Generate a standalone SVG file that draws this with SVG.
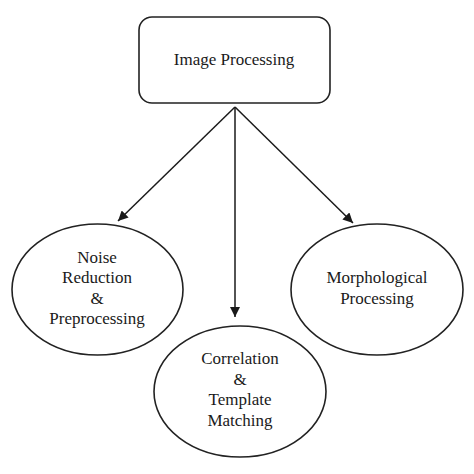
<svg xmlns="http://www.w3.org/2000/svg" width="474" height="474" viewBox="0 0 474 474">
<style>
.shape{fill:#fff;stroke:#222;stroke-width:1.6}
.lbl{font-family:"Liberation Serif","Times New Roman",serif;font-size:17px;fill:#1a1a1a;text-anchor:middle}
.conn{stroke:#1a1a1a;stroke-width:1.5;fill:none;marker-end:url(#ah)}
</style>
<defs>
<marker id="ah" viewBox="0 0 10 10" refX="10" refY="5" markerWidth="10" markerHeight="10" markerUnits="userSpaceOnUse" orient="auto">
<path d="M0,0 L10,5 L0,10 Z" fill="#1a1a1a"/>
</marker>
</defs>
<rect width="474" height="474" fill="#fff"/>
<g id="connectors">
<line class="conn" x1="235" y1="107" x2="118" y2="221"/>
<line class="conn" x1="235" y1="107" x2="235" y2="317"/>
<line class="conn" x1="235" y1="107" x2="353" y2="223"/>
</g>
<g id="node-image-processing">
<rect class="shape" x="139" y="17" width="191" height="86" rx="13"/>
<text class="lbl" x="234" y="65">Image Processing</text>
</g>
<g id="node-noise">
<ellipse class="shape" cx="97.5" cy="289.5" rx="85.5" ry="65.5"/>
<text class="lbl" x="97" y="263">Noise</text>
<text class="lbl" x="97" y="283">Reduction</text>
<text class="lbl" x="97" y="304">&amp;</text>
<text class="lbl" x="97" y="324">Preprocessing</text>
</g>
<g id="node-correlation">
<ellipse class="shape" cx="240" cy="391.5" rx="86" ry="65.5"/>
<text class="lbl" x="240" y="364">Correlation</text>
<text class="lbl" x="240" y="385">&amp;</text>
<text class="lbl" x="240" y="405">Template</text>
<text class="lbl" x="240" y="426">Matching</text>
</g>
<g id="node-morph">
<ellipse class="shape" cx="377" cy="289.5" rx="86" ry="65.5"/>
<text class="lbl" x="377" y="283">Morphological</text>
<text class="lbl" x="377" y="304">Processing</text>
</g>
</svg>
